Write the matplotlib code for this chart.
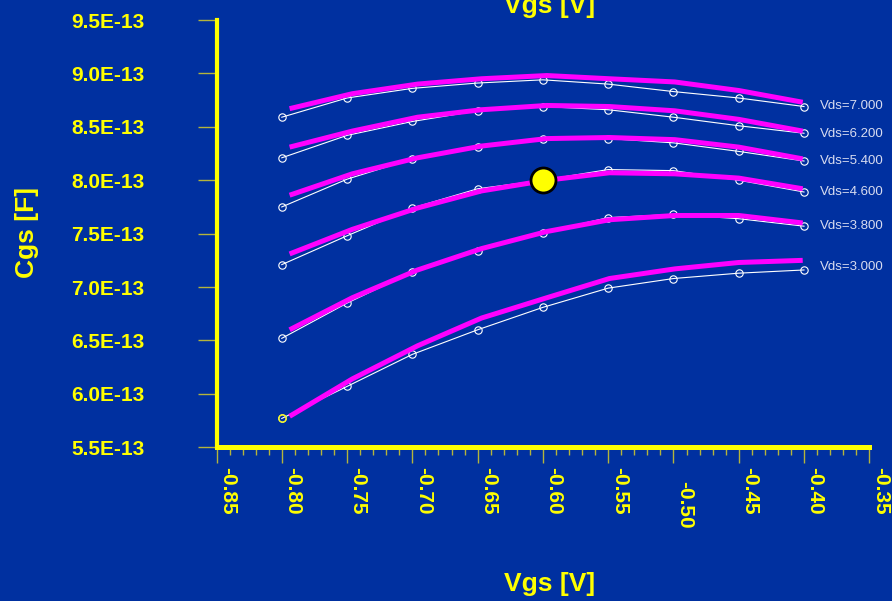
import numpy as np
import matplotlib
matplotlib.use('Agg')
import matplotlib.pyplot as plt
from matplotlib.ticker import MultipleLocator
from matplotlib.transforms import ScaledTranslation

# gate bias (measured points and model curve points)
vgs = [-0.80, -0.75, -0.70, -0.65, -0.60, -0.55, -0.50, -0.45, -0.40]
vgs_model = [-0.794, -0.746, -0.696, -0.647, -0.597, -0.549, -0.499, -0.450, -0.401]

# Cgs in units of 1E-13 F, one list per Vds
vds_values = [3.0, 3.8, 4.6, 5.4, 6.2, 7.0]
cgs_meas = {
    3.0: [5.77, 6.07, 6.37, 6.60, 6.81, 6.99, 7.08, 7.13, 7.16],
    3.8: [6.52, 6.85, 7.14, 7.34, 7.51, 7.65, 7.68, 7.64, 7.57],
    4.6: [7.21, 7.48, 7.74, 7.92, 8.00, 8.10, 8.09, 8.00, 7.89],
    5.4: [7.75, 8.01, 8.20, 8.31, 8.39, 8.39, 8.35, 8.27, 8.18],
    6.2: [8.21, 8.42, 8.55, 8.65, 8.69, 8.66, 8.59, 8.51, 8.44],
    7.0: [8.59, 8.77, 8.86, 8.91, 8.94, 8.90, 8.83, 8.77, 8.69],
}
cgs_model = {
    3.0: [5.79, 6.14, 6.45, 6.71, 6.90, 7.08, 7.17, 7.23, 7.25],
    3.8: [6.60, 6.90, 7.16, 7.36, 7.52, 7.63, 7.67, 7.67, 7.60],
    4.6: [7.31, 7.54, 7.74, 7.90, 8.00, 8.07, 8.06, 8.02, 7.92],
    5.4: [7.86, 8.06, 8.21, 8.32, 8.39, 8.40, 8.38, 8.31, 8.20],
    6.2: [8.31, 8.46, 8.59, 8.66, 8.70, 8.69, 8.65, 8.57, 8.46],
    7.0: [8.67, 8.81, 8.90, 8.95, 8.98, 8.95, 8.92, 8.84, 8.73],
}
marker_vgs, marker_cgs = -0.60, 8.00

xticks = [-0.85, -0.80, -0.75, -0.70, -0.65, -0.60, -0.55, -0.50, -0.45, -0.40, -0.35]
yticks = [5.5, 6.0, 6.5, 7.0, 7.5, 8.0, 8.5, 9.0, 9.5]
ytick_labels = ['%.1fE-13' % v for v in yticks]
scale = 1e-13

bg = '#0030A0'
yel = '#FFFF00'
tickc = '#B4B43C'

plt.rcParams['font.family'] = ['Liberation Sans', 'DejaVu Sans']

fig = plt.figure(figsize=(8.92, 6.01), dpi=100, facecolor=bg)
ax = fig.add_axes([216.5 / 892, (601 - 447.3) / 601, (869.3 - 216.5) / 892, (447.3 - 20) / 601])
ax.set_facecolor(bg)

for v in vds_values:
    meas = np.array(cgs_meas[v]) * scale
    mod = np.array(cgs_model[v]) * scale
    ax.plot(vgs, meas, color='white', lw=0.8, marker='o', ms=5.3, mfc='none',
            mec='white', mew=0.8, zorder=2)
    ax.plot(vgs_model, mod, color='#FF00FF', lw=3.6, solid_capstyle='butt', zorder=3)
    ax.annotate('Vds=%.3f' % v, xy=(vgs[-1], (meas[-1] + mod[-1]) / 2),
                xytext=(11.5, -1), textcoords='offset points', va='center', ha='left',
                color='#D8DCF0', fontsize=9.5, annotation_clip=False)

# highlighted first point of lowest curve
ax.plot(vgs[0], cgs_meas[3.0][0] * scale, 'o', ms=5.3, mfc='none', mec=yel, mew=0.9, zorder=4)
ax.plot(marker_vgs, marker_cgs * scale, 'o', ms=18, mfc=yel, mec='black', mew=2, zorder=5)

ax.set_xlim(-0.85, -0.35)
ax.set_ylim(5.5 * scale, 9.5 * scale)

for s in ['top', 'right']:
    ax.spines[s].set_visible(False)
ax.spines['left'].set_color(yel)
ax.spines['left'].set_linewidth(3.0)
ax.spines['bottom'].set_color(yel)
ax.spines['bottom'].set_linewidth(3.6)

ax.set_xticks(xticks)
ax.set_xticklabels(['%.2f' % t for t in xticks])
ax.xaxis.set_minor_locator(MultipleLocator(0.01))
ax.set_yticks([t * scale for t in yticks])
ax.set_yticklabels(ytick_labels)

ax.tick_params(axis='y', direction='out', length=13.7, width=1, color=tickc, pad=38,
               labelsize=15, labelcolor=yel)
ax.tick_params(axis='x', which='major', direction='out', length=11.5, width=1, color=tickc,
               pad=3, labelsize=15, labelcolor=yel, labelrotation=-90)
ax.tick_params(axis='x', which='minor', direction='out', length=5.8, width=1, color=tickc)

for lbl in ax.get_yticklabels():
    lbl.set_fontweight('bold')
for lbl in ax.get_xticklabels():
    lbl.set_fontweight('bold')
    dy = -13.3 if lbl.get_text() == '-0.50' else 0
    lbl.set_transform(lbl.get_transform() + ScaledTranslation(11 / 100, dy / 100, fig.dpi_scale_trans))

fig.text(550 / 892, 1 - 12.7 / 601, 'Vgs [V]', ha='center', va='baseline',
         fontsize=19, fontweight='bold', color=yel)
fig.text(550 / 892, 1 - 591.5 / 601, 'Vgs [V]', ha='center', va='baseline',
         fontsize=19, fontweight='bold', color=yel)
fig.text(27 / 892, 1 - 233 / 601, 'Cgs [F]', ha='center', va='center', rotation=90,
         fontsize=19, fontweight='bold', color=yel)

fig.savefig('out.png', dpi=100, facecolor=bg)
